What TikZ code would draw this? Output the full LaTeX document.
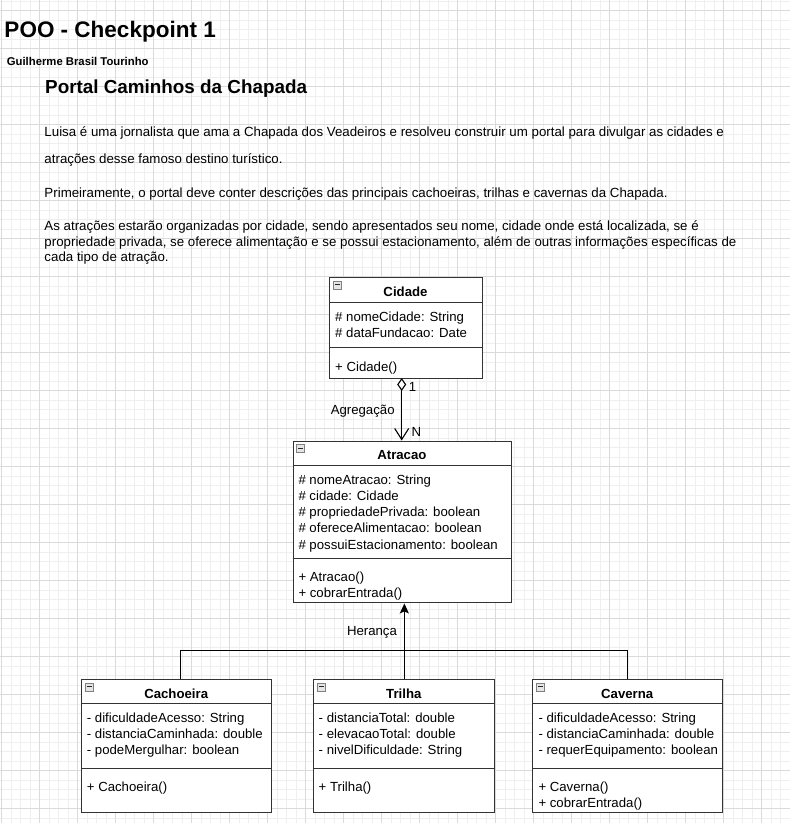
\documentclass[tikz,border=0pt]{standalone}
\usepackage{fontspec}
\setmainfont{Liberation Sans}
\usetikzlibrary{arrows.meta}
\definecolor{gridmin}{HTML}{EFEFEF}
\definecolor{gridmaj}{HTML}{DADADA}
\definecolor{boxline}{HTML}{333333}
\tikzset{
  gridminor/.style={draw=gridmin, line width=0.6pt},
  gridmajor/.style={draw=gridmaj, line width=0.8pt},
  clsbox/.style={draw=boxline, fill=white, line width=1.1pt, rectangle, inner sep=0pt, anchor=north west},
  divline/.style={draw=boxline, line width=1pt},
  icon/.style={draw=black!50, fill=black!10, line width=0.6pt},
  iconbar/.style={draw=black!85, line width=1pt},
  txt/.style={anchor=base west, inner sep=0pt, font=\fontsize{13.2}{15}\selectfont},
  ptxt/.style={anchor=base west, inner sep=0pt, font=\fontsize{13.3}{15}\selectfont},
  ctitle/.style={anchor=base, inner sep=0pt, font=\fontsize{13.2}{15}\selectfont\bfseries},
  lbl/.style={anchor=base, inner sep=0pt, font=\fontsize{13.2}{15}\selectfont},
  conn/.style={draw=black, line width=1.4pt},
}
\begin{document}
\begin{tikzpicture}[x=1pt,y=-1pt]
\useasboundingbox (0,0) rectangle (790,823);
\fill[white] (0,0) rectangle (790,823);
% grid
\foreach \i in {0,...,83} \draw[gridminor] ({1.3+9.5*\i},0) -- ({1.3+9.5*\i},823);
\foreach \i in {0,...,86} \draw[gridminor] (0,{0.8+9.5*\i}) -- (790,{0.8+9.5*\i});
\foreach \i in {0,...,20} \draw[gridmajor] ({1.3+38*\i},0) -- ({1.3+38*\i},823);
\foreach \i in {0,...,21} \draw[gridmajor] (0,{10.3+38*\i}) -- (790,{10.3+38*\i});

% headings
\node[anchor=base west, inner sep=0pt, font=\fontsize{22.5}{26}\selectfont\bfseries] (title) at (4.3,37.3) {POO - Checkpoint 1};
\node[anchor=base west, inner sep=0pt, font=\fontsize{11.3}{13}\selectfont\bfseries] (author) at (6.7,65.5) {Guilherme Brasil Tourinho};
\node[anchor=base west, inner sep=0pt, font=\fontsize{18.85}{22}\selectfont\bfseries] (portal) at (45,93.3) {Portal Caminhos da Chapada};

% paragraph
\node[ptxt] (p1) at (44.3,136.5) {Luisa é uma jornalista que ama a Chapada dos Veadeiros e resolveu construir um portal para divulgar as cidades e};
\node[ptxt] (p2) at (44.3,163.2) {atrações desse famoso destino turístico.};
\node[ptxt] (p3) at (44.3,197.2) {Primeiramente, o portal deve conter descrições das principais cachoeiras, trilhas e cavernas da Chapada.};
\node[ptxt] (p4) at (44.3,230.5) {As atrações estarão organizadas por cidade, sendo apresentados seu nome, cidade onde está localizada, se é};
\node[ptxt] (p5) at (44.3,246.3) {propriedade privada, se oferece alimentação e se possui estacionamento, além de outras informações específicas de};
\node[ptxt] (p6) at (44.3,261.5) {cada tipo de atração.};

% ---------- Cidade
\node[clsbox, minimum width=152.4pt, minimum height=100.7pt] (cidade) at (329.3,277.3) {};
\draw[divline] (329.3,302.3) -- (481.7,302.3);
\draw[divline] (329.3,347.7) -- (481.7,347.7);
\draw[icon] (333.3,280.8) rectangle (341.3,288.8);
\draw[iconbar] (334.8,284.8) -- (339.8,284.8);
\node[ctitle] (cidadeT) at (405.5,296.5) {Cidade};
\node[txt] (cid1) at (335,321.2) {\# nomeCidade: String};
\node[txt] (cid2) at (335,337) {\# dataFundacao: Date};
\node[txt] (cidm1) at (335,371.2) {+ Cidade()};

% ---------- Atracao
\node[clsbox, minimum width=218.3pt, minimum height=161.3pt] (atracao) at (292.7,441) {};
\draw[divline] (292.7,465) -- (511,465);
\draw[divline] (292.7,558.3) -- (511,558.3);
\draw[icon] (296.7,444.5) rectangle (304.7,452.5);
\draw[iconbar] (298.2,448.5) -- (303.2,448.5);
\node[ctitle] (atracaoT) at (401.9,459) {Atracao};
\node[txt] (at1) at (298.3,484.5) {\# nomeAtracao: String};
\node[txt] (at2) at (298.3,500.2) {\# cidade: Cidade};
\node[txt] (at3) at (298.3,516.3) {\# propriedadePrivada: boolean};
\node[txt] (at4) at (298.3,532.5) {\# ofereceAlimentacao: boolean};
\node[txt] (at5) at (298.3,549) {\# possuiEstacionamento: boolean};
\node[txt] (atm1) at (298.3,581.2) {+ Atracao()};
\node[txt] (atm2) at (298.3,597.2) {+ cobrarEntrada()};

% ---------- Cachoeira
\node[clsbox, minimum width=190.3pt, minimum height=132.4pt] (cach) at (81,679.3) {};
\draw[divline] (81,703.3) -- (271.3,703.3);
\draw[divline] (81,768.3) -- (271.3,768.3);
\draw[icon] (85,682.8) rectangle (93,690.8);
\draw[iconbar] (86.5,686.8) -- (91.5,686.8);
\node[ctitle] (cachT) at (176.2,698.5) {Cachoeira};
\node[txt] (ca1) at (86.7,722.2) {- dificuldadeAcesso: String};
\node[txt] (ca2) at (86.7,738.5) {- distanciaCaminhada: double};
\node[txt] (ca3) at (86.7,754.6) {- podeMergulhar: boolean};
\node[txt] (cam1) at (86.7,791) {+ Cachoeira()};

% ---------- Trilha
\node[clsbox, minimum width=181pt, minimum height=132.4pt] (trilha) at (313.3,679.3) {};
\draw[divline] (313.3,703.3) -- (494.3,703.3);
\draw[divline] (313.3,768.3) -- (494.3,768.3);
\draw[icon] (317.3,682.8) rectangle (325.3,690.8);
\draw[iconbar] (318.8,686.8) -- (323.8,686.8);
\node[ctitle] (trilhaT) at (403.8,698.5) {Trilha};
\node[txt] (tr1) at (318.5,722.2) {- distanciaTotal: double};
\node[txt] (tr2) at (318.5,738.5) {- elevacaoTotal: double};
\node[txt] (tr3) at (318.5,754.6) {- nivelDificuldade: String};
\node[txt] (trm1) at (318.5,791) {+ Trilha()};

% ---------- Caverna
\node[clsbox, minimum width=189.7pt, minimum height=132.7pt] (cav) at (532.3,679.3) {};
\draw[divline] (532.3,703.3) -- (722,703.3);
\draw[divline] (532.3,768.3) -- (722,768.3);
\draw[icon] (536.3,682.8) rectangle (544.3,690.8);
\draw[iconbar] (537.8,686.8) -- (542.8,686.8);
\node[ctitle] (cavT) at (627.2,698.5) {Caverna};
\node[txt] (cv1) at (538.3,722.2) {- dificuldadeAcesso: String};
\node[txt] (cv2) at (538.3,738.5) {- distanciaCaminhada: double};
\node[txt] (cv3) at (538.3,754.8) {- requerEquipamento: boolean};
\node[txt] (cvm1) at (538.3,791) {+ Caverna()};
\node[txt] (cvm2) at (538.3,807) {+ cobrarEntrada()};

% ---------- aggregation
\coordinate (aggTop) at (401.7,378);
\coordinate (aggBot) at (401.7,440.5);
\draw[conn, line width=1.1pt, {Diamond[fill=white,length=13pt,width=9pt]}-{Straight Barb[length=11pt,width=14pt]}] (aggTop) -- (aggBot);
\node[lbl] (one) at (412.5,391.2) {1};
\node[lbl] (nlab) at (416.5,436.3) {N};
\node[lbl] (agg) at (362.7,414.5) {Agregação};

% ---------- inheritance
\coordinate (hub) at (403.6,650.3);
\draw[conn] ([xshift=3.9pt]cach.north) |- (hub) -| ([xshift=-0.4pt]cav.north);
\draw[conn, -{Stealth[length=10pt,width=9pt,inset=2pt]}] (trilha.north) -- (trilha.north |- atracao.south);
\node[lbl] (her) at (372,635.5) {Herança};
\end{tikzpicture}
\end{document}
